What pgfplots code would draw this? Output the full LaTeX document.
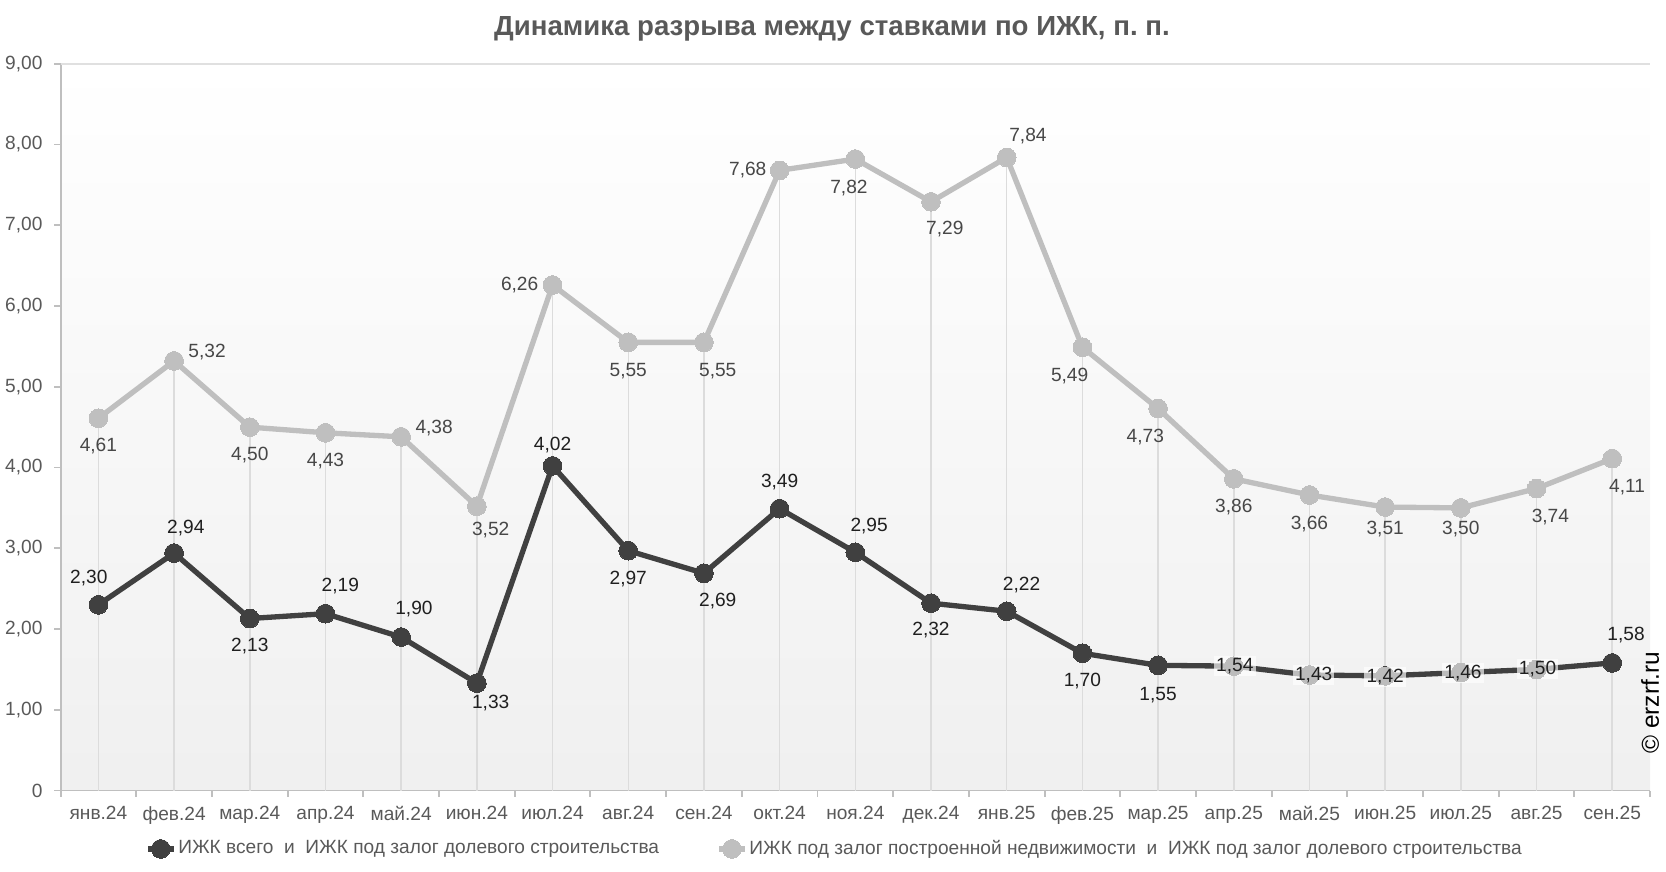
\documentclass[border=0pt]{standalone}
\usepackage{fontspec}
\setmainfont{Liberation Sans}
\usepackage{pgfplots}
\pgfplotsset{compat=1.18}
\usepackage{pgfplotstable}
\definecolor{dk}{HTML}{404040}
\definecolor{lg}{HTML}{BFBFBF}
\definecolor{txt}{HTML}{595959}
\definecolor{axc}{HTML}{BFBFBF}
\definecolor{drop}{HTML}{DCDCDC}

\pgfplotstableread{
x y dx dy fo
0 2.30 -4.5 12.5 0
1 2.94 5.5 12 0
2 2.13 0 -13 0
3 2.19 7 13 0
4 1.90 6 13 0
5 1.33 6.5 -9.5 0
6 4.02 0 10 0
7 2.97 0 -13.5 0
8 2.69 6.5 -13 0
9 3.49 0 12.5 0
10 2.95 6.5 12.5 0
11 2.32 0 -12.5 0
12 2.22 7 12.5 0
13 1.70 0 -13 0
14 1.55 0 -14 0
15 1.54 0.5 0 0.65
16 1.43 2 0 0.65
17 1.42 0 -0.5 0.65
18 1.46 1 0 0.65
19 1.50 0.5 0 0.65
20 1.58 6.5 13 0
}\blacktab

\pgfplotstableread{
x y dx dy fo
0 4.61 0 -13 0
1 5.32 15.5 4 0
2 4.50 0 -13 0
3 4.43 0 -13.5 0
4 4.38 15.5 4 0
5 3.52 6.5 -11 0
6 6.26 -15.5 0 0
7 5.55 0 -13.5 0
8 5.55 6.5 -13.5 0
9 7.68 -15 0 0
10 7.82 -3 -13.5 0
11 7.29 6.5 -13 0
12 7.84 10 10 0
13 5.49 -6 -13.5 0
14 4.73 -6 -13.5 0
15 3.86 0 -13.5 0
16 3.66 0 -13.5 0
17 3.51 0 -10.5 0
18 3.50 0 -10 0
19 3.74 6.5 -13.5 0
20 4.11 7 -13.5 0
}\greytab

\pgfplotsset{
  lbls/.style={
    nodes near coords={\pgfmathprintnumber[fixed,fixed zerofill,precision=2,use comma]{\pgfplotspointmeta}},
    point meta=y,
    visualization depends on={\thisrow{dx} \as \dx},
    visualization depends on={\thisrow{dy} \as \dy},
    visualization depends on={\thisrow{fo} \as \fo},
    every node near coord/.append style={anchor=center, xshift=\dx, yshift=\dy,
      font=\fontsize{9}{10}\selectfont, fill=white, fill opacity=\fo, text opacity=1, inner sep=1pt, text=#1},
  }
}

\begin{document}
\begin{tikzpicture}
\useasboundingbox (0,0) rectangle (784pt,410pt);
\node[font=\bfseries\fontsize{13}{15}\selectfont, text=txt] at (391.5pt,396.5pt) {Динамика разрыва между ставками по ИЖК, п.~п.};
\begin{axis}[
  at={(28.5pt,38pt)}, anchor=south west,
  scale only axis, width=748pt, height=342pt,
  xmin=-0.5, xmax=20.5, ymin=0, ymax=9,
  clip=false,
  axis x line*=bottom, axis y line*=left,
  axis line style={draw=axc, line width=0.9pt},
  axis background/.style={top color=white, bottom color=black!6},
  xtick={-0.5,0.5,...,20.5}, xticklabels={},
  extra x ticks={0,1,...,20},
  extra x tick labels={янв.24,фев.24,мар.24,апр.24,май.24,июн.24,июл.24,авг.24,сен.24,окт.24,ноя.24,дек.24,янв.25,фев.25,мар.25,апр.25,май.25,июн.25,июл.25,авг.25,сен.25},
  extra x tick style={major tick length=0pt, tick style={draw=none}},
  ytick={0,1,...,9},
  yticklabels={0,{1,00},{2,00},{3,00},{4,00},{5,00},{6,00},{7,00},{8,00},{9,00}},
  tick align=outside, major tick length=3pt,
  tick style={draw=axc, line width=0.9pt},
  ticklabel style={font=\fontsize{9}{10}\selectfont, text=txt},
  xticklabel style={yshift=-4pt},
  yticklabel style={xshift=-2pt},
  /pgf/number format/assume math mode=true,
  after end axis/.code={\draw[draw=black!12, line width=0.8pt] (rel axis cs:0,1) -- (rel axis cs:1,1);},
  legend columns=2,
  legend style={at={(0.487,-0.0804)}, anchor=center, draw=none, fill=none,
    font=\fontsize{9}{10}\selectfont, text=txt,
    /tikz/every even column/.append style={column sep=26pt},
    nodes={inner xsep=1pt}},
  legend image code/.code={\draw[mark repeat=2, mark phase=2, #1] plot coordinates {(0pt,0pt) (6pt,0pt) (12pt,0pt)};},
]
\addplot[ycomb, draw=drop, line width=0.7pt, mark=none, forget plot] table[x=x,y=y]{\greytab};
\addplot[dk, line width=2.5pt, mark=*, mark size=4.4pt, mark options={fill=dk, draw=dk, line width=0pt},
  lbls=black!88] table[x=x,y=y]{\blacktab};
\addlegendentry{ИЖК всего \ и \ ИЖК под залог долевого строительства}
\addplot[lg, line width=2.5pt, mark=*, mark size=4.4pt, mark options={fill=lg, draw=lg, line width=0pt},
  lbls=black!72] table[x=x,y=y]{\greytab};
\addlegendentry{ИЖК под залог построенной недвижимости \ и \ ИЖК под залог долевого строительства}
\node[rotate=90, font=\fontsize{11.5}{13}\selectfont, text=black] at (rel axis cs:1,0.121) {© erzrf.ru};
\end{axis}
\end{tikzpicture}
\end{document}
